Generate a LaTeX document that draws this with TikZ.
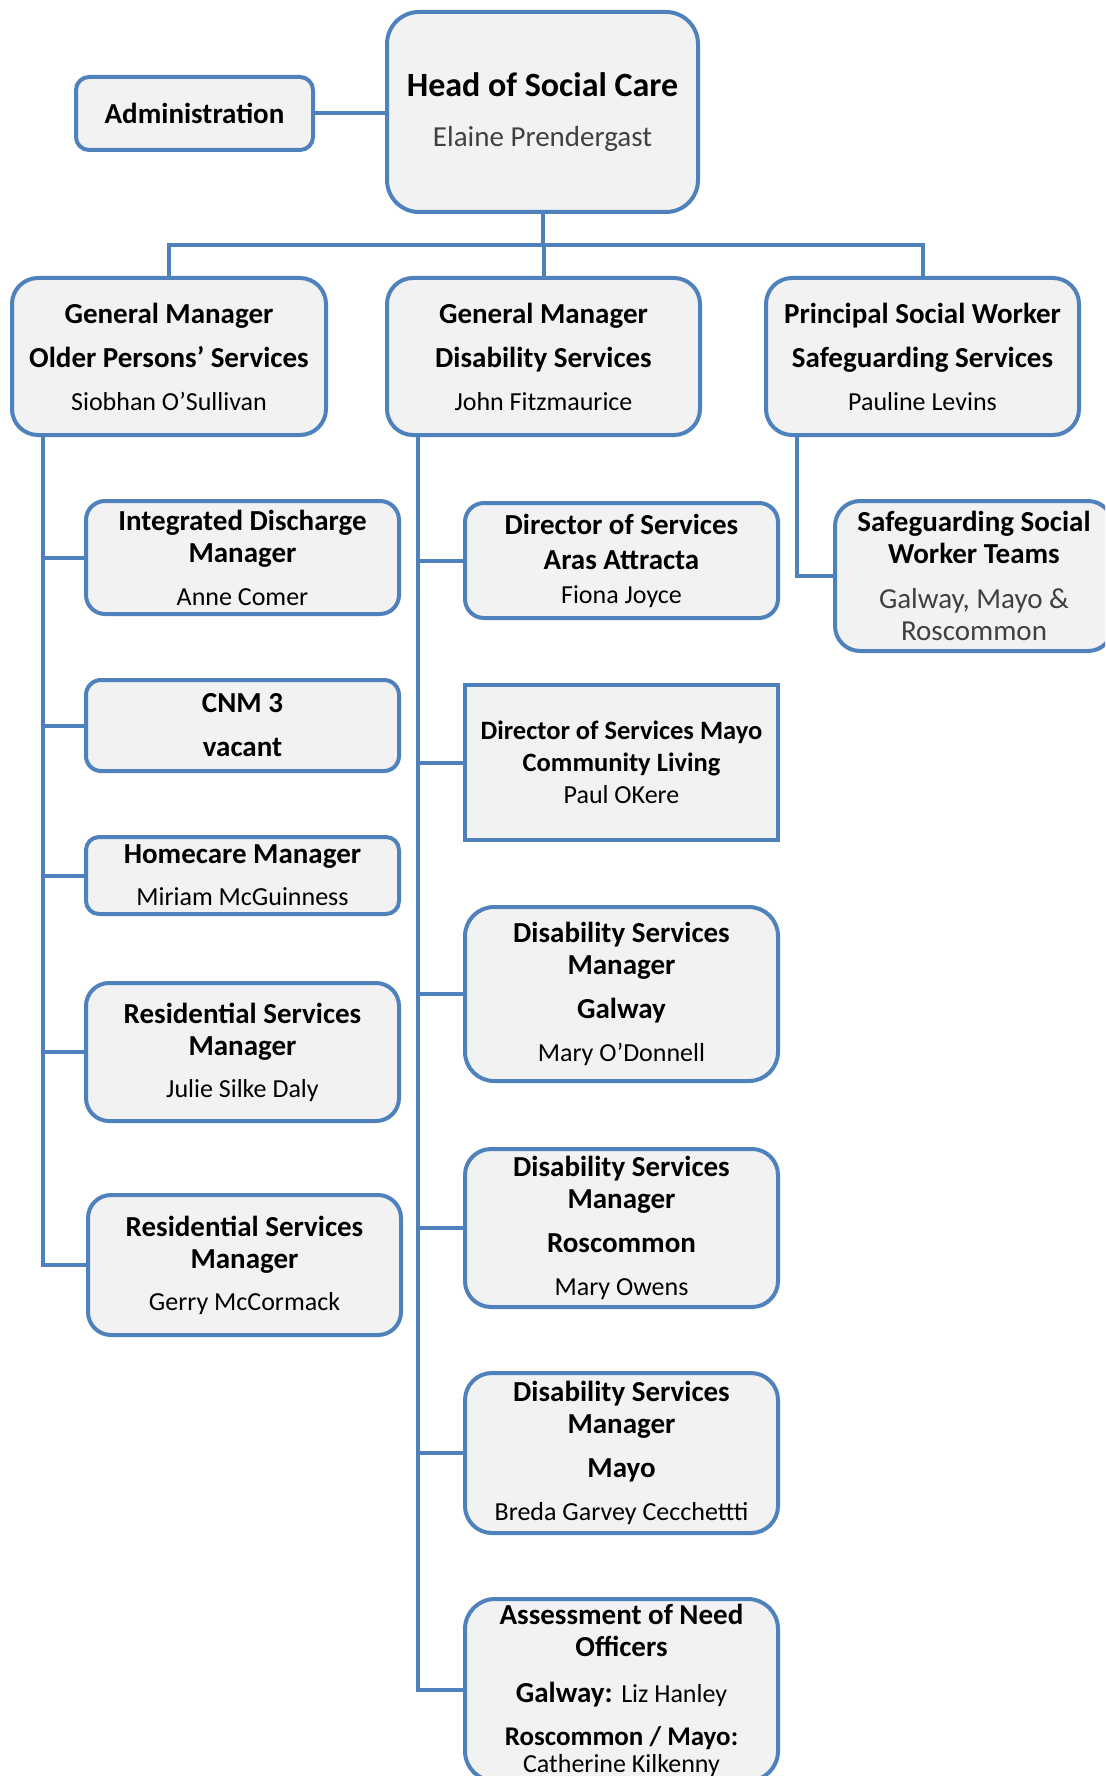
\documentclass[tikz,border=0pt]{standalone}
\usepackage{fontspec}
\setmainfont{Carlito}
\usetikzlibrary{calc}
\definecolor{hblue}{RGB}{79,129,189}
\definecolor{hfill}{RGB}{242,242,242}
\definecolor{hgray}{RGB}{64,64,64}
\newcommand\pname{\fontsize{26}{32}\selectfont\mdseries}
\newcommand\gname{\fontsize{29}{32}\selectfont\mdseries\color{hgray}}
\tikzset{
  unit/.style={draw=hblue,fill=hfill,line width=4pt,rounded corners=#1,align=center,
    inner sep=0pt,minimum width=313pt,font=\fontsize{29}{32}\selectfont\bfseries},
  unit/.default=20,
  link/.style={draw=hblue,line width=4pt}
}
\begin{document}
\begin{tikzpicture}[x=1pt,y=-1pt]
      \useasboundingbox(0,0)rectangle(1105,1776);
      \clip(0,0)rectangle(1105,1776);
      % top
      \node[unit=32,minimum width=311,minimum height=200](H)at(542.5,112)
        {{\fontsize{34}{40}\selectfont Head of Social Care}\\[18pt]{\gname Elaine Prendergast}};
      \node[unit=13,minimum width=237,minimum height=73](A)at(194.5,113.5){Administration};
      \node[unit=26,minimum width=314,minimum height=157](O)at(169,356.5)
        {General Manager\\[12pt]Older Persons’ Services\\[11pt]{\pname Siobhan O'Sullivan}};
      \node[unit=26,minimum height=157](D)at(543.5,356.5)
        {General Manager\\[12pt]Disability Services\\[11pt]{\pname John Fitzmaurice}};
      \node[unit=26,minimum height=157](P)at(922.5,356.5)
        {Principal Social Worker\\[12pt]Safeguarding Services\\[11pt]{\pname Pauline Levins}};
      % older persons
      \node[unit=19,minimum height=113](O1)at(242.5,557.5){Integrated Discharge\\Manager\\[11pt]{\pname Anne Comer}};
      \node[unit=15,minimum height=91](O2)at(242.5,725.5){CNM 3\\[12pt]vacant};
      \node[unit=13,minimum height=77](O3)at(242.5,875.5){Homecare Manager\\[10pt]{\pname Miriam McGuinness}};
      \node[unit=23,minimum height=138](O4)at(242.5,1052){Residential Services\\Manager\\[10pt]{\pname Julie Silke Daly}};
      \node[unit=23,minimum height=140](O5)at(244.5,1265){Residential Services\\Manager\\[10pt]{\pname Gerry McCormack}};
      % disability
      \node[unit=19,minimum height=115](D1)at(621.5,560.5){Director of Services\\[3pt]Aras Attracta\\[2pt]{\pname Fiona Joyce}};
      \node[unit,sharp corners,minimum height=155,font=\fontsize{26.5}{32}\selectfont\bfseries](D2)at(621.5,762.5)
        {Director of Services Mayo\\Community Living\\{\pname Paul OKere}};
      \node[unit=29,minimum height=174](D3)at(621.5,994){Disability Services\\Manager\\[12pt]Galway\\[11pt]{\pname Mary O'Donnell}};
      \node[unit=26,minimum height=158](D4)at(621.5,1228){Disability Services\\Manager\\[12pt]Roscommon\\[11pt]{\pname Mary Owens}};
      \node[unit=27,minimum height=160](D5)at(621.5,1453){Disability Services\\Manager\\[12pt]Mayo\\[11pt]{\pname Breda Garvey Cecchettti}};
      \node[unit=30,minimum height=182](D6)at(621.5,1690)
        {Assessment of Need\\Officers\\[14pt]Galway: {\pname Liz Hanley}\\[11pt]{\fontsize{27}{32}\selectfont Roscommon / Mayo:}\\[-5pt]{\pname Catherine Kilkenny}};
      % safeguarding
      \node[unit=25,minimum width=278,minimum height=150](P1)at(974,576)
        {Safeguarding Social\\Worker Teams\\[13pt]{\gname Galway, Mayo \&}\\{\gname Roscommon}};
      % lines
      \coordinate(bus)at(542.5,245);
      \draw[link](H.south)--(bus) (O.north)|-(bus)-|(P.north) (D.north)--(D.north|-bus);
      \draw[link](A.east)--(A.east-|H.west);
      \coordinate(os)at(43,434);\coordinate(ds)at(418,434);\coordinate(ps)at(797,434);
      \foreach \n in{O1,O2,O3,O4,O5}{\draw[link](os)|-(\n.west);}
      \foreach \n in{D1,D2,D3,D4,D5,D6}{\draw[link](ds)|-(\n.west);}
      \draw[link](ps)|-(P1.west);
\end{tikzpicture}
\end{document}
